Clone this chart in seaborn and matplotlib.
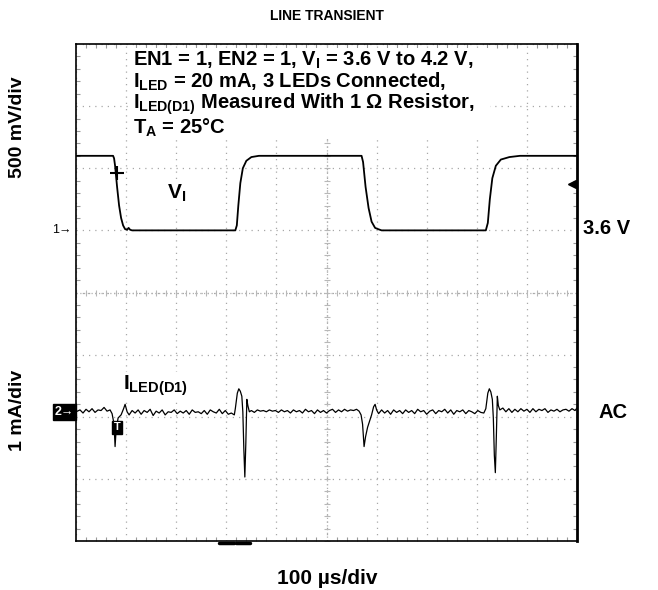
import matplotlib
matplotlib.use("Agg")
import matplotlib.pyplot as plt
from matplotlib.patches import Rectangle
import numpy as np
import pandas as pd
import seaborn as sns

# channel 1: input voltage V_I (volts) vs time (us)
t_vi = [0, 74, 76, 78, 82, 86, 90, 94, 98, 102, 105, 108, 112, 318, 321, 324, 328,
        333, 340, 350, 365, 570, 573, 578, 584, 590, 597, 603, 610, 818, 822, 826,
        831, 838, 848, 865, 886, 1000]
v_i = [4.20, 4.20, 4.18, 4.12, 3.95, 3.80, 3.70, 3.64, 3.61, 3.605, 3.62, 3.605, 3.60,
       3.60, 3.64, 3.80, 3.98, 4.10, 4.16, 4.19, 4.20, 4.20, 4.15, 3.95, 3.78, 3.67,
       3.62, 3.61, 3.60, 3.60, 3.66, 3.85, 4.02, 4.12, 4.17, 4.19, 4.20, 4.20]

# channel 2: LED current, AC coupled (mA) vs time (us)
t_led = [0, 8, 14, 20, 26, 32, 38, 44, 50, 56, 62, 68, 72, 76, 78, 80, 84, 90, 95, 98,
         102, 106, 112, 118, 124, 130, 136, 142, 148, 154, 160, 166, 172, 178, 184, 190,
         196, 202, 208, 214, 220, 226, 232, 238, 244, 250, 256, 262, 268, 274, 280, 286,
         292, 298, 304, 310, 316, 318, 322, 325, 328, 331, 333, 335, 337, 339, 341, 343,
         346, 350, 356, 362, 368, 374, 380, 386, 392, 398, 404, 410, 416, 422, 428, 434,
         440, 446, 452, 458, 464, 470, 476, 482, 488, 494, 500, 506, 512, 518, 524, 530,
         536, 542, 548, 554, 560, 565, 569, 572, 575, 578, 582, 586, 590, 594, 597, 600,
         604, 610, 616, 622, 628, 634, 640, 646, 652, 658, 664, 670, 676, 682, 688, 694,
         700, 706, 712, 718, 724, 730, 736, 742, 748, 754, 760, 766, 772, 778, 784, 790,
         796, 802, 808, 814, 818, 822, 825, 828, 831, 833, 835, 837, 839, 841, 843, 846,
         852, 858, 864, 870, 876, 882, 888, 894, 900, 906, 912, 918, 924, 930, 936, 942,
         948, 954, 960, 966, 972, 978, 984, 990, 996, 1000]
i_led = [0.00, 0.03, -0.02, 0.04, 0.00, 0.05, -0.01, 0.03, 0.02, 0.07, 0.01, 0.03, -0.03,
         -0.20, -0.56, -0.30, -0.10, -0.05, 0.05, 0.12, 0.00, -0.05, 0.02, -0.02, 0.03,
         -0.04, 0.02, -0.01, 0.04, -0.06, 0.01, -0.02, 0.03, -0.05, 0.00, -0.01, 0.03,
         -0.03, 0.01, -0.02, 0.02, -0.04, 0.03, -0.01, 0.00, -0.03, 0.02, -0.04, 0.03,
         0.00, -0.02, 0.04, -0.03, 0.02, -0.04, -0.02, -0.05, 0.05, 0.30, 0.37, 0.33,
         0.25, 0.00, -0.60, -1.05, -0.50, 0.20, 0.10, 0.00, 0.02, -0.01, 0.03, 0.01,
         0.02, 0.00, 0.03, 0.01, 0.02, -0.01, 0.03, 0.00, 0.02, -0.02, 0.03, 0.00, 0.02,
         -0.02, 0.04, 0.00, 0.02, -0.03, 0.03, -0.01, 0.02, -0.02, 0.02, 0.04, -0.01,
         0.03, 0.00, 0.04, 0.01, 0.03, 0.02, 0.04, 0.01, -0.05, -0.20, -0.56, -0.40,
         -0.25, -0.15, -0.05, 0.08, 0.12, 0.03, -0.03, 0.03, -0.02, 0.02, -0.04, 0.03,
         -0.01, 0.02, -0.03, 0.03, -0.01, 0.02, -0.03, 0.04, 0.00, 0.02, -0.04, 0.01,
         0.03, -0.03, 0.02, 0.00, 0.04, -0.02, 0.03, -0.04, 0.02, 0.00, 0.03, -0.03,
         0.02, 0.00, -0.03, 0.02, -0.01, -0.02, 0.05, 0.30, 0.37, 0.32, 0.20, -0.10,
         -0.70, -0.98, -0.40, 0.25, 0.10, 0.03, 0.06, 0.00, 0.05, -0.01, 0.04, 0.00,
         0.05, 0.01, 0.04, -0.01, 0.05, 0.00, 0.04, 0.02, 0.05, -0.01, 0.03, 0.01, 0.04,
         0.00, 0.03, 0.04, 0.01, 0.05, 0.02, 0.06]

# scope settings
US_PER_DIV = 100
V_PER_DIV = 0.5
CH1_REF = 3.6      # volts at the "1" marker
CH1_POS = 1.0      # divisions above centre
MA_PER_DIV = 1.0
CH2_POS = -1.92    # divisions below centre

sns.set_style("white")
plt.rcParams['font.family'] = ['Liberation Sans', 'DejaVu Sans']
plt.rcParams['text.color'] = 'black'
plt.rcParams['mathtext.fontset'] = 'custom'
plt.rcParams['mathtext.rm'] = 'Liberation Sans:bold'
plt.rcParams['mathtext.it'] = 'Liberation Sans:bold'
plt.rcParams['mathtext.bf'] = 'Liberation Sans:bold'

ch1 = pd.DataFrame({'t': np.array(t_vi) / US_PER_DIV,
                    'y': CH1_POS + (np.array(v_i) - CH1_REF) / V_PER_DIV})
ch2 = pd.DataFrame({'t': np.array(t_led) / US_PER_DIV,
                    'y': CH2_POS + np.array(i_led) / MA_PER_DIV})

W, H = 658, 590
fig = plt.figure(figsize=(W / 100, H / 100), dpi=100)
ax = fig.add_axes([76 / W, 1 - 541 / H, 501 / W, 497 / H])

# graticule
ax.set_xlim(0, 10)
ax.set_ylim(-4, 4)
ax.set_xticks(range(11))
ax.set_yticks(range(-4, 5))
ax.set_xticklabels([])
ax.set_yticklabels([])
ax.grid(True, color='#a8a8a8', linestyle=(0, (1, 4)), lw=0.9)
ax.set_xticks(np.arange(0, 10.01, 0.2), minor=True)
ax.set_yticks(np.arange(-4, 4.01, 0.2), minor=True)
ax.tick_params(which='both', direction='in', top=True, right=True, bottom=True, left=True,
               color='#999999')
ax.tick_params(which='major', length=0)
ax.tick_params(which='minor', length=3, width=0.8)
ax.axhline(0, color='#b0b0b0', ls=(0, (1, 2)), lw=0.9)
ax.axvline(5, color='#b0b0b0', ls=(0, (1, 2)), lw=0.9)
ax.plot(np.full(41, 5.0), np.arange(-4, 4.01, 0.2), ls='none', marker='_', ms=5,
        color='#b8b8b8', mew=0.8)
ax.plot(np.arange(0, 10.01, 0.2), np.zeros(51), ls='none', marker='|', ms=5,
        color='#b8b8b8', mew=0.8)
for side, s in ax.spines.items():
    s.set_color('black')
    s.set_linewidth(1.2)
ax.spines['right'].set_linewidth(2.0)

# traces
sns.lineplot(data=ch1, x='t', y='y', color='black', lw=1.3, ax=ax,
             sort=False, estimator=None)
sns.lineplot(data=ch2, x='t', y='y', color='black', lw=0.9, ax=ax,
             sort=False, estimator=None)
ax.set_xlabel('')
ax.set_ylabel('')

# scope markers
ax.plot([0.82], [1.92], marker='+', ms=10, mew=1.5, color='black')
ax.text(0.82, -2.17, 'T', color='white', fontsize=8, fontweight='bold',
        ha='center', va='center',
        bbox=dict(boxstyle='square,pad=0.15', fc='black', ec='black'))
ax.plot([9.9], [1.74], marker='<', ms=6, color='black', clip_on=False)
ax.plot([2.85, 3.15], [-4.03, -4.03], color='black', lw=2.5, clip_on=False)
ax.plot([3.2, 3.47], [-4.03, -4.03], color='black', lw=2.5, clip_on=False)
ax.text(-0.08, CH1_POS, '1\u2192', fontsize=9, ha='right', va='center',
        family=['Liberation Sans', 'DejaVu Sans'])
ax.text(-0.04, CH2_POS, '2\u2192', fontsize=9, ha='right', va='center', color='white',
        fontweight='bold', family=['Liberation Sans', 'DejaVu Sans'],
        bbox=dict(boxstyle='square,pad=0.15', fc='black', ec='black'))

ax.text(2.0, 1.6, r'V$_{I}$', fontsize=15, fontweight='bold', ha='center', va='center',
        bbox=dict(boxstyle='square,pad=0.1', fc='white', ec='none'))
ax.text(0.94, -1.57, r'I$_{LED(D1)}$', fontsize=15, fontweight='bold', ha='left',
        va='baseline', bbox=dict(boxstyle='square,pad=0.1', fc='white', ec='none'))

# labels around the screen
def fx(px):
    return px / W

def fy(py):
    return 1 - py / H

# blank patch behind the test conditions, as on the scope capture
fig.patches.append(Rectangle((fx(130), fy(138)), fx(490) - fx(130), fy(48) - fy(138),
                             transform=fig.transFigure, fc='white', ec='none', zorder=1))

fig.text(fx(327), fy(16), 'LINE TRANSIENT', fontsize=10, fontweight='bold',
         ha='center', va='center')
notes = [r'EN1 = 1, EN2 = 1, V$_{I}$ = 3.6 V to 4.2 V,',
         r'I$_{LED}$ = 20 mA, 3 LEDs Connected,',
         r'I$_{LED(D1)}$ Measured With 1 $\Omega$ Resistor,',
         r'T$_{A}$ = 25°C']
fig.text(fx(133), fy(50), '\n'.join(notes), fontsize=14.5, fontweight='bold',
         ha='left', va='top', linespacing=0.95, zorder=3)
fig.text(fx(18), fy(127), '500 mV/div', fontsize=14, fontweight='bold', rotation=90,
         ha='center', va='center')
fig.text(fx(18), fy(410), '1 mA/div', fontsize=14, fontweight='bold', rotation=90,
         ha='center', va='center')
fig.text(fx(607), fy(228), '3.6 V', fontsize=14.5, fontweight='bold', ha='center',
         va='center')
fig.text(fx(613), fy(412), 'AC', fontsize=14.5, fontweight='bold', ha='center',
         va='center')
fig.text(fx(327), fy(578), '100 \u00b5s/div', fontsize=15, fontweight='bold',
         ha='center', va='center')

fig.savefig('out.png', dpi=100)
